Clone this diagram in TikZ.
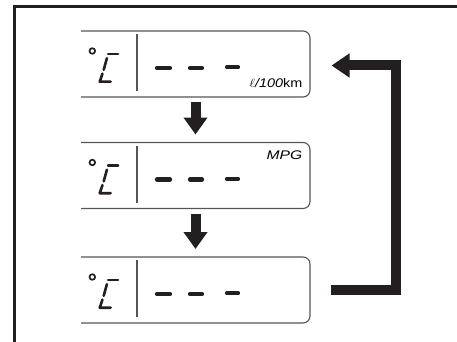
\documentclass[tikz,border=0pt]{standalone}
\usepackage{fontspec}
\setsansfont{Liberation Sans}
\usepackage{tikz}
\usetikzlibrary{calc,  positioning,  arrows.meta}
\definecolor{ink}{HTML}{231F20}
\definecolor{rim}{HTML}{555555}

\begin{document}
\begin{tikzpicture}[x=1pt,  y=-1pt,
    disp/.style={rectangle,  minimum width=229pt,  minimum height=66pt,  inner sep=0pt,  outer sep=0pt},
    displine/.style={draw=rim,  line width=1.1pt,  rounded corners=7pt},
    seg/.style={draw=ink,  line width=2.6pt,  line cap=round,  line join=round},
    dashseg/.style={draw=ink,  line width=4.2pt,  line cap=round},
    unit/.style={font=\sffamily\itshape\fontsize{12.5}{12.5}\selectfont,  inner sep=0pt,  anchor=east},
    downarrow/.style={draw=ink,  line width=10pt,  -{Triangle[width=23pt,  length=17pt]},  shorten <=5pt,  shorten >=8pt},
    looparrow/.style={draw=ink,  line width=10pt,  line join=miter,  -{Triangle[width=23pt,  length=18pt]}}]
  \useasboundingbox (0,0) rectangle (457,342);

  % outer frame
  \draw[ink,  line width=3pt] (14.5,342) -- (14.5,6.5) -- (457,6.5);

  % the three displays
  \node[disp] (d1) at (195.5,64) {};
  \node[disp] (d2) at (195.5,175.5) {};
  \node[disp] (d3) at (195.5,290) {};

  \foreach \n in {d1,  d2,  d3} {
    \draw[displine] (\n.north west) -- (\n.north east) -- (\n.south east) -- (\n.south west);
    \begin{scope}[shift={(\n.center)}]
      \draw[rim,  line width=1.1pt] (-58.5,-30) -- (-58.5,27);
      \draw[ink,  line width=1.7pt] (-103.2,-13) circle (2.8pt);
      \draw[seg] (-87.4,-10) -- (-77.4,-10);
      \draw[seg] (-88.6,-5.8) -- (-91.8,5.8);
      \draw[seg] (-93,9.6) -- (-95.8,17.7) -- (-84.8,17.7);
      \draw[dashseg] (-38.5,4) -- (-25.5,4);
      \draw[dashseg] (-5.5,4) -- (6.5,4);
      \draw[dashseg] (31.5,3.3) -- (42.5,3.3);
    \end{scope}
  }

  \node[unit] (lkm) at ([xshift=-7.5pt,  yshift=-19pt]d1.east) {\scalebox{1.15}[1]{$\ell$/100\upshape km}};
  \node[unit] (mpg) at ([xshift=-7.5pt,  yshift=20.5pt]d2.east) {\scalebox{1.25}[1]{MPG}};

  \draw[downarrow] (d1) -- (d2);
  \draw[downarrow] (d2) -- (d3);
  \draw[looparrow] ([xshift=21pt]d3.east) -- ++(65,0) |- ([xshift=21.5pt,  yshift=-1.5pt]d1.east);
\end{tikzpicture}
\end{document}
